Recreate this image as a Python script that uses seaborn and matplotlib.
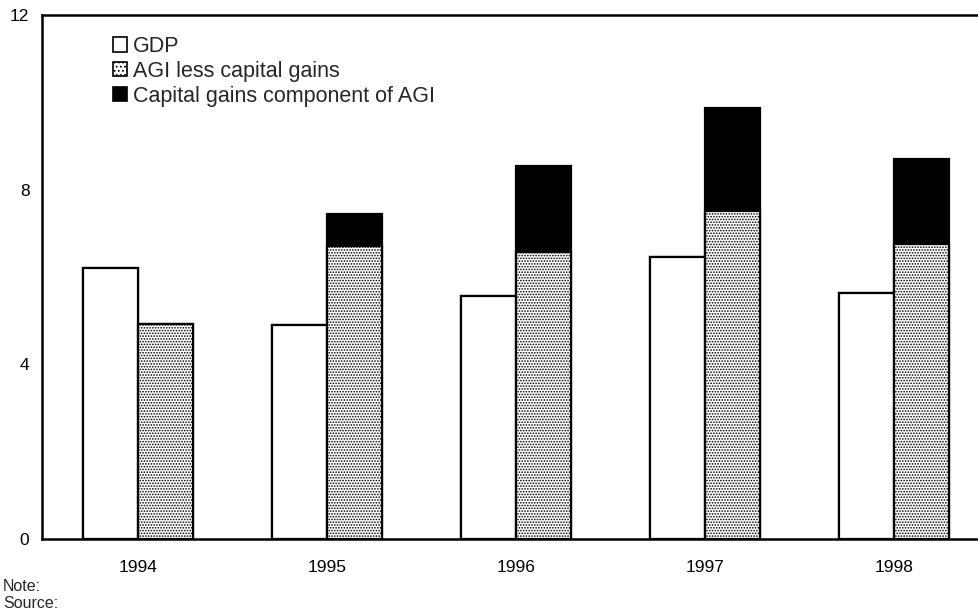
import matplotlib
matplotlib.use("Agg")
import matplotlib.pyplot as plt
import pandas as pd
import seaborn as sns
from matplotlib.patches import Patch

# values (percent)
years = ["1994", "1995", "1996", "1997", "1998"]
gdp = [6.21, 4.91, 5.56, 6.45, 5.64]
agi_less_cg = [4.93, 6.70, 6.57, 7.51, 6.76]
cap_gains = [0.0, 0.75, 1.97, 2.37, 1.95]

labels = ["GDP", "AGI less capital gains", "Capital gains component of AGI"]

sns.set_style("white")
plt.rcParams["font.family"] = ["Liberation Sans", "DejaVu Sans"]
plt.rcParams["hatch.linewidth"] = 0.8

agi_total = [a + c for a, c in zip(agi_less_cg, cap_gains)]

# full AGI bars (black) drawn first, the non-capital-gains part goes on top
df_back = pd.DataFrame({
    "year": years * 2,
    "series": ["GDP"] * len(years) + ["AGI"] * len(years),
    "value": gdp + agi_total,
})
df_front = pd.DataFrame({
    "year": years * 2,
    "series": ["GDP"] * len(years) + ["AGI"] * len(years),
    "value": gdp + agi_less_cg,
})

fig = plt.figure(figsize=(9.79, 6.11), dpi=100)
ax = fig.add_axes([0.0429, 0.1178, 0.9571, 0.8577])

bar_kw = dict(x="year", y="value", hue="series", hue_order=["GDP", "AGI"],
              width=0.58, errorbar=None, edgecolor="black", linewidth=1.6,
              saturation=1, legend=False, ax=ax)
sns.barplot(data=df_back, palette={"GDP": "white", "AGI": "black"}, **bar_kw)
sns.barplot(data=df_front, palette={"GDP": "white", "AGI": "white"}, **bar_kw)
# last container = AGI less capital gains
for p in ax.containers[-1]:
    p.set_hatch("......")

ax.set_xlim(-0.508, 4.45)
ax.set_ylim(0, 12)
ax.set_yticks([0, 4, 8, 12])
ax.set_xlabel("")
ax.set_ylabel("")
ax.tick_params(axis="y", direction="in", length=5, width=1.2,
               labelsize=12.5, pad=9, colors="black")
ax.tick_params(axis="x", length=0, labelsize=12.5, pad=15, colors="black")

for side in ["left", "bottom", "top"]:
    ax.spines[side].set_visible(True)
    ax.spines[side].set_color("black")
    ax.spines[side].set_linewidth(1.8)
ax.spines["right"].set_visible(False)

handles = [
    Patch(facecolor="white", edgecolor="black", linewidth=1.2),
    Patch(facecolor="white", edgecolor="black", linewidth=1.2, hatch="...."),
    Patch(facecolor="black", edgecolor="black", linewidth=1.2),
]
ax.legend(handles, labels, loc="upper left", bbox_to_anchor=(0.076, 0.960),
          frameon=False, fontsize=15.5, handlelength=0.65, handleheight=0.65,
          handletextpad=0.25, labelspacing=0.18, borderpad=0, borderaxespad=0)

fig.text(0.003, 0.040, "Note:", fontsize=11.5, va="center")
fig.text(0.003, 0.012, "Source:", fontsize=11.5, va="center")

fig.savefig("out.png", dpi=100)
